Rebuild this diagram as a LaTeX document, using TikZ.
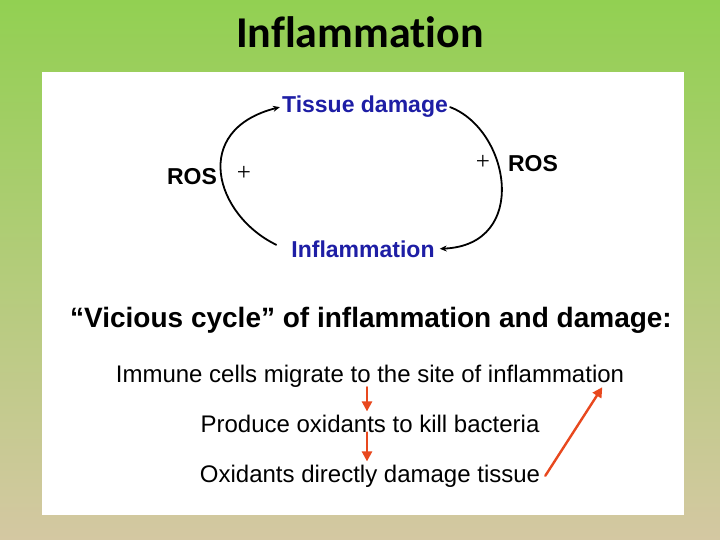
\documentclass[tikz,border=0pt]{standalone}
\usepackage{fontspec}
\setmainfont{Liberation Sans}
\newfontfamily\titlefont[Ligatures={NoCommon}]{Carlito}
\newfontfamily\plusfont{Liberation Serif}
\usetikzlibrary{arrows.meta,positioning}
\definecolor{slidegreen}{RGB}{146,208,82}
\definecolor{slidepale}{RGB}{232,230,202}
\definecolor{slidetan}{RGB}{212,200,162}
\definecolor{cycleblue}{RGB}{30,30,165}
\definecolor{stepred}{RGB}{232,72,30}
\begin{document}
\begin{tikzpicture}[x=1pt, y=-1pt, line cap=round, line join=round,
	cycletext/.style={font=\fontsize{23}{23}\selectfont\bfseries, text=cycleblue, inner sep=0pt, anchor=base},
	rostext/.style={font=\fontsize{23}{23}\selectfont\bfseries, inner sep=0pt, anchor=base},
	plustext/.style={font=\plusfont\fontsize{25}{25}\selectfont, inner sep=0pt},
	steptext/.style={font=\fontsize{24}{24}\selectfont, inner sep=0pt, anchor=base},
	cyclearrow/.style={line width=1.8pt, -{Stealth[length=7pt,width=6pt]}},
	steparrow/.style={line width=2.4pt, draw=stepred, -{Triangle[length=10pt,width=10pt]}}]
	\useasboundingbox (0,0) rectangle (720,540);
	% slide background and white panel
	\shade[top color=slidegreen, middle color=slidepale, bottom color=slidetan] (0,0) rectangle (720,540);
	\fill[white] (42,72) rectangle (684,515);
	\node[font=\titlefont\fontsize{44}{44}\selectfont\bfseries, inner sep=0pt, anchor=base] (title) at (360,48) {Inflammation};
	% the cycle
	\node[cycletext] (tissue) at (365,113) {Tissue damage};
	\node[cycletext] (inflam) at (363,257) {Inflammation};
	\node[rostext] (rosL) at (192,185) {ROS};
	\node[rostext] (rosR) at (533,172) {ROS};
	\node[plustext] (plusL) at (244,173) {+};
	\node[plustext] (plusR) at (483,162) {+};
	\draw[cyclearrow] ([xshift=-15pt,yshift=4pt]inflam.west) .. controls (215,215) and (190,130) .. ([xshift=-2pt]tissue.west);
	\draw[cyclearrow] ([xshift=2pt]tissue.east) .. controls (510,130) and (530,245) .. ([xshift=5pt]inflam.east);
	% the steps
	\node[font=\fontsize{28}{28}\selectfont\bfseries, inner sep=0pt, anchor=base] (vicious) at (371,327) {``Vicious cycle'' of inflammation and damage:};
	\node[steptext] (immune) at (370,382) {Immune cells migrate to the site of inflammation};
	\node[steptext] (produce) at (370,432) {Produce oxidants to kill bacteria};
	\node[steptext] (oxid) at (370,482) {Oxidants directly damage tissue};
	\foreach \a/\b in {immune/produce, produce/oxid}{
		\draw[steparrow, shorten >=3pt] ([xshift=-3pt]\a.south) -- ([xshift=-3pt]\b.north);
	}
	\draw[steparrow] ([xshift=5pt]oxid.east) -- ([xshift=-22pt]immune.south east);
\end{tikzpicture}
\end{document}
